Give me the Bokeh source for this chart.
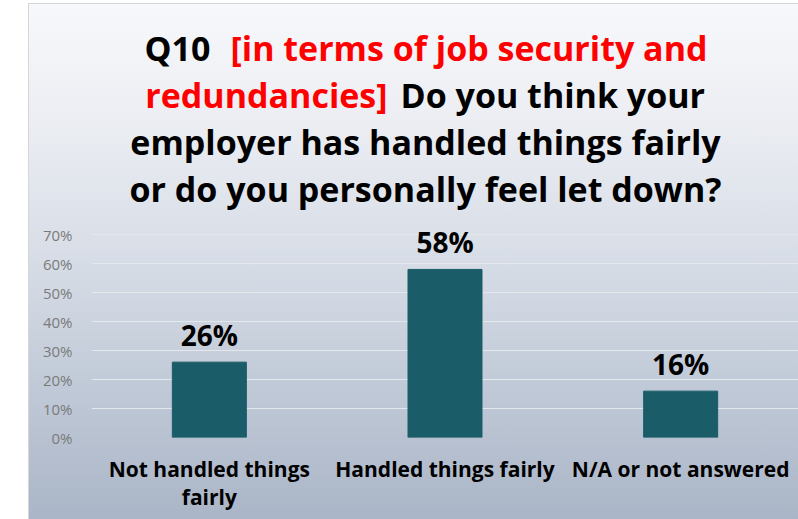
from bokeh.plotting import figure
from bokeh.layouts import column
from bokeh.models import ColumnDataSource, LabelSet, Label, NumeralTickFormatter, FixedTicker, Range1d
from bokeh.core.properties import value
from bokeh.embed import file_html
from bokeh.resources import INLINE

categories = ["Not handled things\nfairly", "Handled things fairly", "N/A or not answered"]
values = [0.26, 0.58, 0.16]
value_labels = ["26%", "58%", "16%"]
y_ticks = [0, 0.1, 0.2, 0.3, 0.4, 0.5, 0.6, 0.7]

title_lines = [
    [("Q10", "black"), ("[in terms of job security and", "#ff0000")],
    [("redundancies]", "#ff0000"), ("Do you think your", "black")],
    [("employer has handled things fairly", "black")],
    [("or do you personally feel let down?", "black")],
]

FONT = "Open Sans"
W = 769
FL = 62           # frame left (shared by both blocks)
TH = 215          # title block height
CH = 300          # chart block height

# ---------- title block ----------
tf = figure(width=W, height=TH, x_range=Range1d(FL, W), y_range=Range1d(TH, 0),
            output_backend="svg", toolbar_location=None,
            x_axis_type=None, y_axis_type=None,
            min_border=0, min_border_left=FL, min_border_right=0, min_border_top=0, min_border_bottom=0)
tf.background_fill_alpha = 0
tf.border_fill_alpha = 0
tf.outline_line_color = None
tf.grid.visible = False

cx = 396
line_y = [43, 90, 137, 184]
splits = {0: (181, 201), 1: (358, 371)}
TS = "34px"
for i, parts in enumerate(title_lines):
    y = line_y[i]
    if len(parts) == 1:
        txt, col = parts[0]
        tf.add_layout(Label(x=cx, y=y, text=txt,
                            text_align="center", text_baseline="middle", text_color=col,
                            text_font=FONT, text_font_style="bold", text_font_size=TS))
    else:
        (t1, c1), (t2, c2) = parts
        xr, xl = splits[i]
        tf.add_layout(Label(x=xr, y=y, text=t1,
                            text_align="right", text_baseline="middle", text_color=c1,
                            text_font=FONT, text_font_style="bold", text_font_size=TS))
        tf.add_layout(Label(x=xl, y=y, text=t2,
                            text_align="left", text_baseline="middle", text_color=c2,
                            text_font=FONT, text_font_style="bold", text_font_size=TS))

# ---------- chart block ----------
source = ColumnDataSource(dict(cat=categories, val=values, lab=value_labels))

p = figure(x_range=categories, y_range=Range1d(0, 0.735), width=W, height=CH,
           output_backend="svg", toolbar_location=None,
           min_border_left=FL, min_border_right=0, min_border_top=5, min_border_bottom=82)
p.background_fill_alpha = 0
p.border_fill_alpha = 0
p.outline_line_color = None

p.vbar(x="cat", top="val", width=0.314, source=source, color="#1a5c68", line_color="#1a5c68")

p.add_layout(LabelSet(x="cat", y="val", text="lab", source=source, y_offset=8,
                      text_align="center", text_baseline="bottom",
                      text_font=value(FONT), text_font_style="bold", text_font_size="28px",
                      text_color="black"))

p.ygrid.grid_line_color = "#e4e7ec"
p.ygrid.grid_line_width = 1
p.xgrid.grid_line_color = None

p.yaxis.ticker = FixedTicker(ticks=y_ticks)
p.yaxis.formatter = NumeralTickFormatter(format="0%")
p.yaxis.axis_line_color = None
p.yaxis.major_tick_line_color = None
p.yaxis.minor_tick_line_color = None
p.yaxis.major_label_standoff = 13
p.yaxis.major_label_text_font = FONT
p.yaxis.major_label_text_font_size = "15px"
p.yaxis.major_label_text_color = "#7a7a7a"

p.xaxis.axis_line_color = None
p.xaxis.major_tick_line_color = None
p.xaxis.major_label_standoff = 11
p.xaxis.major_label_text_font = FONT
p.xaxis.major_label_text_font_style = "bold"
p.xaxis.major_label_text_font_size = "21px"
p.xaxis.major_label_text_color = "black"
p.xaxis.major_label_text_line_height = 1.03

grad = ("linear-gradient(to bottom, #f7f8fb 0%, #eceef3 22%, #d5dbe5 52%, "
        "#c3ccd9 71%, #aab5c7 100%)")
layout = column(tf, p, spacing=0, margin=(4, 0, 0, 29),
                styles={"background": grad, "outline": "1px solid #d6d6d6"})

open("out.html", "w").write(file_html(layout, INLINE))
